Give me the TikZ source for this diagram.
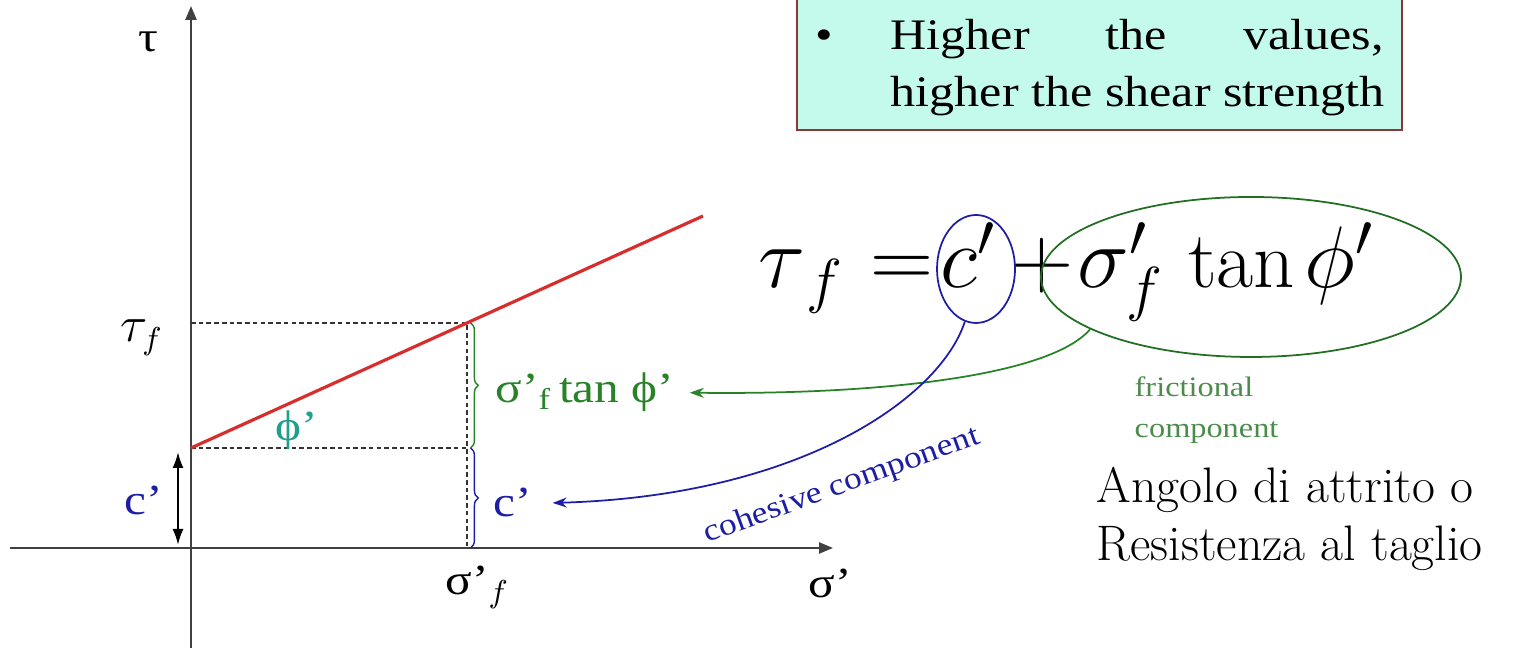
\documentclass[tikz,border=0pt]{standalone}
\usepackage{fontspec}
\setmainfont{Liberation Serif}[FakeStretch=1.15]
\newfontfamily\lmfont{Latin Modern Roman}
\usepackage{xcolor}
\usetikzlibrary{arrows.meta, positioning, shapes.geometric, decorations.pathreplacing}

\definecolor{lineRed}{RGB}{215,45,45}
\definecolor{fricGreen}{RGB}{40,130,40}
\definecolor{fricLight}{RGB}{75,140,75}
\definecolor{cohBlue}{RGB}{30,30,165}
\definecolor{phiTeal}{RGB}{30,160,140}
\definecolor{boxFill}{RGB}{195,250,236}
\definecolor{boxEdge}{RGB}{140,55,55}

\begin{document}
\begin{tikzpicture}[
  axis/.style={draw=black!75, line width=0.7pt, -{Triangle[length=1.4mm, width=1.1mm]}},
  guide/.style={draw=black!80, line width=0.3pt, dash pattern=on 1.3pt off 0.9pt},
  lbl/.style={font=\fontsize{12.2}{14}\selectfont, inner sep=0pt},
  eq/.style={font=\fontsize{23}{26}\selectfont, inner sep=0pt, anchor=base west},
  pointer/.style={-{Stealth[length=1.4mm, width=1mm]}, line width=0.5pt},
  curly/.style={decorate, decoration={brace, amplitude=2.2pt}, line width=0.4pt},
  loop/.style={draw, ellipse, line width=0.5pt, inner sep=0pt},
]
  \useasboundingbox (0,0) rectangle (15.37,6.48);

  % note box, cut at the top
  \fill[boxFill] (7.97,6.48) rectangle (14.02,5.18);
  \draw[boxEdge, line width=0.7pt] (7.97,6.48) -- (7.97,5.18) -- (14.02,5.18) -- (14.02,6.48);
  \node[font=\fontsize{12.4}{16}\selectfont, inner sep=0pt, anchor=base west] (bul) at (8.15,5.98) {•};
  \node[font=\fontsize{12.4}{16}\selectfont, inner sep=0pt, anchor=base west] (hl1) at (8.90,5.98) {\makebox[4.93cm][s]{Higher the values,}};
  \node[font=\fontsize{12.4}{16}\selectfont, inner sep=0pt, anchor=base west] (hl2) at (8.90,5.41) {higher the shear strength};

  % axes
  \coordinate (ybot) at (1.91,0);
  \coordinate (ytop) at (1.91,6.42);
  \coordinate (xl) at (0.10,1.00);
  \coordinate (xr) at (8.33,1.00);
  \draw[axis] (ybot) -- (ytop);
  \draw[axis] (xl) -- (xr);

  \coordinate (C) at (1.91,2.00);
  \coordinate (F) at (4.67,3.25);
  \coordinate (Fx) at (4.67,1.00);
  \coordinate (Fy) at (1.91,3.25);
  \coordinate (Cf) at (4.67,2.00);
  \coordinate (E) at (7.03,4.32);
  \coordinate (ca) at (1.78,1.96);
  \coordinate (cb) at (1.78,1.03);

  \draw[guide] (Fy) -- (F) -- (Fx);
  \draw[guide] (C) -- (Cf);
  \draw[lineRed, line width=0.9pt] (C) -- (E);

  \draw[curly, fricGreen] ([xshift=1pt]F) -- ([xshift=1pt]Cf);
  \draw[curly, cohBlue] ([xshift=1pt]Cf) -- ([xshift=1pt]Fx);
  \draw[{Latex[length=1.6mm, width=1.1mm]}-{Latex[length=1.6mm, width=1.1mm]}, line width=0.6pt] (ca) -- (cb);

  % graph labels
  \node[lbl, anchor=base west] (tau) at (1.38,5.96) {τ};
  \node[lbl, font=\fontsize{13.5}{15}\selectfont, anchor=base east] (tauf) at (1.64,3.06) {$\tau_f$};
  \node[lbl, cohBlue, anchor=base] (cl) at (1.44,1.33) {c’};
  \node[lbl, phiTeal] (phi) at (2.97,2.18) {ϕ’};
  \node[lbl, fricGreen, anchor=base west] (ftan) at (4.95,2.45) {σ’\textsubscript{f}\,tan ϕ’};
  \node[lbl, cohBlue, anchor=base west] (cr) at (4.93,1.31) {c’};
  \node[lbl, anchor=base west] (sf) at (4.45,0.53) {σ’$_f$};
  \node[lbl, anchor=base west] (sx) at (8.08,0.50) {σ’};

  % failure criterion
  \node[eq] (lhs) at (7.58,3.60) {$\tau_{\,f}$};
  \node[eq] (eqs) at (8.70,3.60) {$=$};
  \node[eq] (cq) at (9.40,3.60) {$c'$};
  \node[eq] (pl) at (10.10,3.60) {$+$};
  \node[eq] (sig) at (10.77,3.60) {$\sigma'_f$\hspace{0.3em}{\lmfont tan}\hspace{0.12em}$\phi'$};

  \node[loop, cohBlue, minimum width=0.78cm, minimum height=1.08cm] (cel) at (9.76,3.79) {};
  \node[loop, fricGreen!85!black, minimum width=4.2cm, minimum height=1.6cm] (gel) at (12.51,3.71) {};

  \draw[pointer, fricGreen] (gel.198) .. controls (10.50,2.72) and (8.80,2.53) .. ([xshift=1.5mm]ftan.east);
  \draw[pointer, cohBlue] (cel.258) .. controls (9.40,2.50) and (8.00,1.52) .. ([xshift=2mm]cr.east);

  \node[cohBlue, font=\fontsize{8.8}{11}\selectfont, inner sep=0pt, rotate=20] (coh) at (8.42,1.62) {cohesive component};
  \node[fricLight, font=\fontsize{8}{10}\selectfont, inner sep=0pt, anchor=base west] (fr1) at (11.34,2.51) {frictional};
  \node[fricLight, font=\fontsize{8}{10}\selectfont, inner sep=0pt, anchor=base west] (fr2) at (11.34,2.10) {component};

  \node[font={\fontsize{14.2}{17}\lmfont}, inner sep=0pt, anchor=base west] (it1) at (10.96,1.45) {Angolo di attrito o};
  \node[font={\fontsize{14.2}{17}\lmfont}, inner sep=0pt, anchor=base west] (it2) at (10.96,0.87) {Resistenza al taglio};
\end{tikzpicture}
\end{document}
